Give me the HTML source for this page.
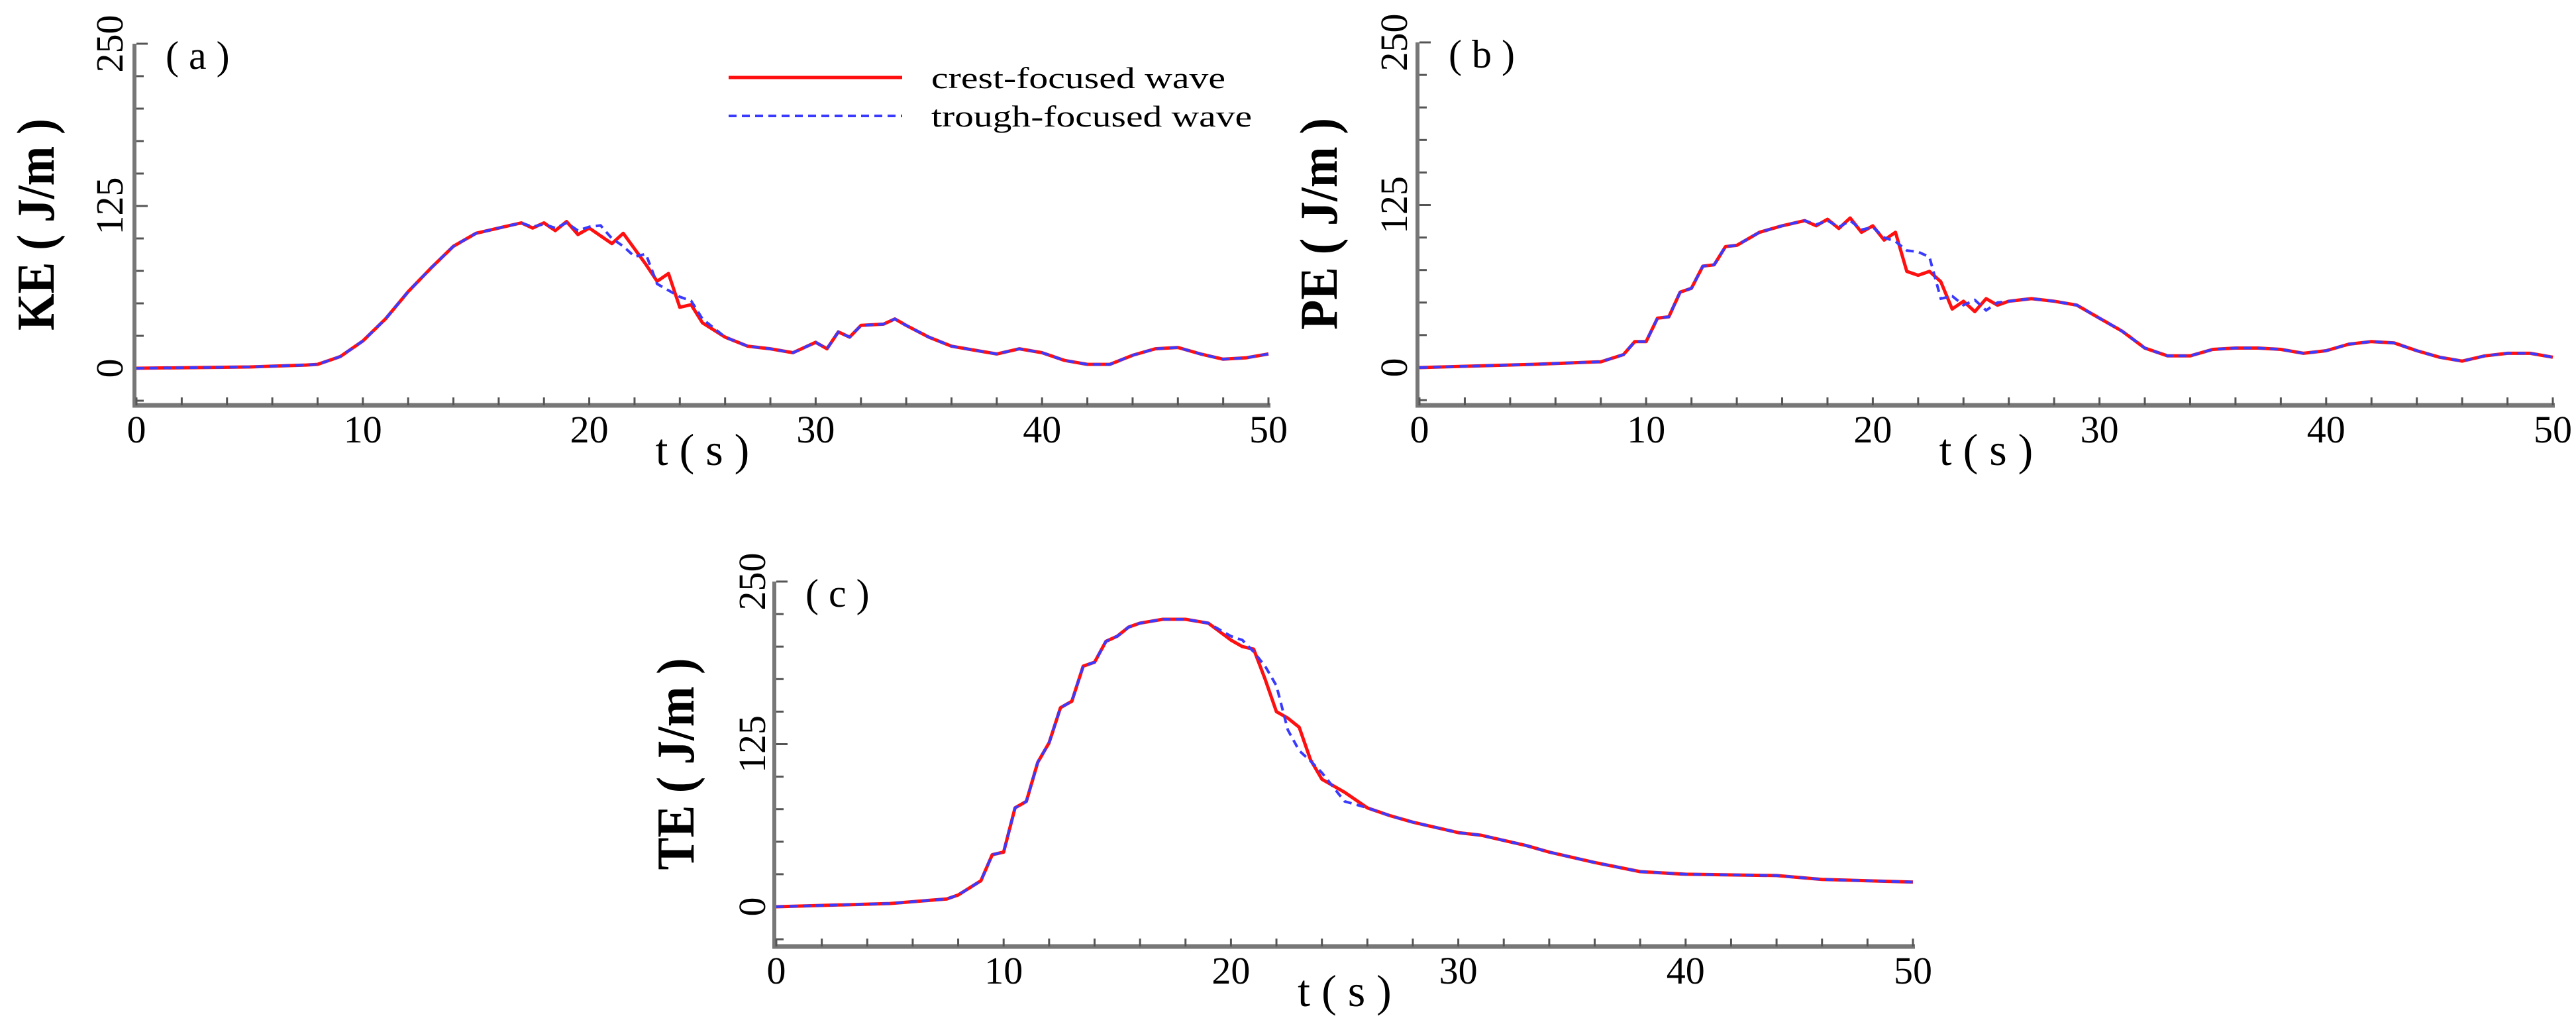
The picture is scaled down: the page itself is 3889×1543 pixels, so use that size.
<!DOCTYPE html>
<html><head><meta charset="utf-8"><style>
html,body{margin:0;padding:0;background:#fff;}
svg{display:block;font-family:"Liberation Serif",serif;}
</style></head><body>
<svg id="fig" width="3889" height="1543" viewBox="0 0 3889 1543" xmlns="http://www.w3.org/2000/svg"></svg>
<script>
// ---- data ----
const keT = [0,5,7.5,8,9,10,11,12,13,14,15,16,17,17.5,18,18.5,19,19.5,20,20.5,21,21.5,22,22.5,23,23.5,24,24.5,25,26,27,28,29,30,30.5,31,31.5,32,33,33.5,34,35,36,37,38,39,40,41,42,43,44,45,46,47,48,49,50];
const keCrest = [0,1,2.5,3,9,21,38,59,77,94,104,108,112,108,112,106,113,103,108,102,96,104,92,80,67,73,47,49,35,24,17,15,12,20,15,28,24,33,34,38,33,24,17,14,11,15,12,6,3,3,10,15,16,11,7,8,11];
const keTrough = [0,1,2.5,3,9,21,38,59,77,94,104,108,112,109,111,108,112,106,109,110,100,94,86,88,65,60,55,52,38,24,17,15,12,20,15,28,24,33,34,38,33,24,17,14,11,15,12,6,3,3,10,15,16,11,7,8,11];

const peT = [0,5,8,9,9.5,10,10.5,11,11.5,12,12.5,13,13.5,14,15,16,17,17.5,18,18.5,19,19.5,20,20.5,21,21.5,22,22.5,23,23.5,24,24.5,25,25.5,26,27,28,29,30,31,32,33,34,35,36,37,38,39,40,41,42,43,44,45,46,47,48,49,50];
const peCrest = [0,2.5,4.5,10,20,20,38,39,58,61,78,79,93,94,104,109,113,109,114,107,115,104,109,98,104,74,71,74,66,45,51,43,53,48,51,53,51,48,38,28,15,9,9,14,15,15,14,11,13,18,20,19,13,8,5,9,11,11,8];
const peTrough = [0,2.5,4.5,10,20,20,38,39,58,61,78,79,93,94,104,109,113,110,113,108,113,106,108,100,97,90,89,85,53,55,48,52,44,50,51,53,51,48,38,28,15,9,9,14,15,15,14,11,13,18,20,19,13,8,5,9,11,11,8];

const teT = [0,5,7.5,8,9,9.5,10,10.5,11,11.5,12,12.5,13,13.5,14,14.5,15,15.5,16,17,18,19,20,20.5,21,21.5,22,22.5,23,23.5,24,25,26,27,28,30,31,33,34,36,38,40,44,46,48,50];
const teCrest = [0,2.5,6,9,20,40,42,76,81,111,126,153,158,185,188,204,208,215,218,221,221,218,205,200,198,175,150,145,138,113,98,88,76,70,65,57,55,47,42,34,27,25,24,21,20,19];
const teTrough = [0,2.5,6,9,20,40,42,76,81,111,126,153,158,185,188,204,208,215,218,221,221,218,208,205,196,185,170,136,120,112,103,81,76,70,65,57,55,47,42,34,27,25,24,21,20,19];

const xTickLabels = ["0","10","20","30","40","50"];
const yTickLabels = ["0","125","250"];

// ---- drawing ----
const NS = "http://www.w3.org/2000/svg";
const svg = document.getElementById("fig");
function mk(tag, attrs, parent){
  const e = document.createElementNS(NS, tag);
  for (const k in attrs) e.setAttribute(k, attrs[k]);
  (parent||svg).appendChild(e);
  return e;
}

function panel(p){
  const g = mk("g", {});
  
  
  const sx = t => p.x0 + (t/50)*(p.x1-p.x0);
  const sy = v => p.y0 - (v/250)*(p.y0-p.y250);
  // left axis
  const la = mk("line", {x1:p.x0-3, y1:p.y250, x2:p.x0-3, y2:p.bottom, stroke:"#777", "stroke-width":6}, g);
  
  
  for (let v=-25; v<=250; v+=25){
    const y = sy(v);
    if (y > p.bottom-4) continue;
    const tk = mk("line", {x1:p.x0, y1:y, x2:p.x0+(v%125===0?17:11), y2:y, stroke:"#555", "stroke-width":3}, g);
    
    
  }
  // bottom axis
  const ba = mk("line", {x1:p.x0-6, y1:p.bottom, x2:p.x1+3, y2:p.bottom, stroke:"#777", "stroke-width":7}, g);
  
  
  for (let t=0; t<=50; t+=2){
    const x = sx(t);
    const tk = mk("line", {x1:x, y1:p.bottom, x2:x, y2:p.bottom-12, stroke:"#555", "stroke-width":3}, g);
    
    
  }
  xTickLabels.forEach(s => {
    const tx = mk("text", {x:sx(+s), y:p.bottom+56, "font-size":58, "text-anchor":"middle", fill:"#000"}, g);
    tx.textContent = s;
    
    
  });
  yTickLabels.forEach(s => {
    const y = sy(+s), x = p.x0 + p.ytlOff;
    const tx = mk("text", {x:x, y:y, "font-size":58, "text-anchor":"middle", fill:"#000", transform:`rotate(-90 ${x} ${y})`}, g);
    tx.textContent = s;
    
    
  });
  // titles
  const ym = (p.y250 + p.bottom)/2, yx = p.x0 - 125;
  const yt = mk("text", {x:yx, y:ym, "font-size":80, "font-weight":"bold", "text-anchor":"middle", textLength:320, lengthAdjust:"spacingAndGlyphs", transform:`rotate(-90 ${yx} ${ym})`}, g);
  yt.textContent = p.ytitle + " ( J/m )";
  
  
  const xt = mk("text", {x:(p.x0+p.x1)/2, y:p.bottom+90, "font-size":68, "text-anchor":"middle"}, g);
  xt.textContent = "t ( s )";
  
  
  const lb = mk("text", {x:p.x0+44, y:p.y250+38, "font-size":60}, g);
  lb.textContent = "( " + p.id + " )";
  
  
  // series
  const pts = (ts, vs) => ts.map((t,i)=>sx(t).toFixed(1)+","+sy(vs[i]).toFixed(1)).join(" ");
  const cr = mk("polyline", {points:pts(p.t, p.crest), fill:"none", stroke:"#ff1010", "stroke-width":5, "stroke-linejoin":"round"}, g);
  
  
  const tr = mk("polyline", {points:pts(p.t, p.trough), fill:"none", stroke:"#3a3aff", "stroke-width":4, "stroke-dasharray":"12 8"}, g);
  
  
}

panel({id:"a", x0:206, x1:1915, y250:66, y0:556, bottom:612, ytlOff:-21, ytitle:"KE", t:keT, crest:keCrest, trough:keTrough});
panel({id:"b", x0:2143, x1:3854, y250:64, y0:555, bottom:612, ytlOff:-19, ytitle:"PE", t:peT, crest:peCrest, trough:peTrough});
panel({id:"c", x0:1172, x1:2888, y250:878, y0:1369, bottom:1429, ytlOff:-17, ytitle:"TE", t:teT, crest:teCrest, trough:teTrough});

// legend
const lg = mk("g", {});


const l1 = mk("line", {x1:1100, y1:117, x2:1362, y2:117, stroke:"#ff1010", "stroke-width":5}, lg);


const t1 = mk("text", {x:1406, y:133, "font-size":46, textLength:444, lengthAdjust:"spacingAndGlyphs"}, lg);
t1.textContent = "crest-focused wave";


const l2 = mk("line", {x1:1100, y1:175, x2:1362, y2:175, stroke:"#3a3aff", "stroke-width":4, "stroke-dasharray":"12 8"}, lg);


const t2 = mk("text", {x:1406, y:191, "font-size":46, textLength:484, lengthAdjust:"spacingAndGlyphs"}, lg);
t2.textContent = "trough-focused wave";


</script>
</body></html>
